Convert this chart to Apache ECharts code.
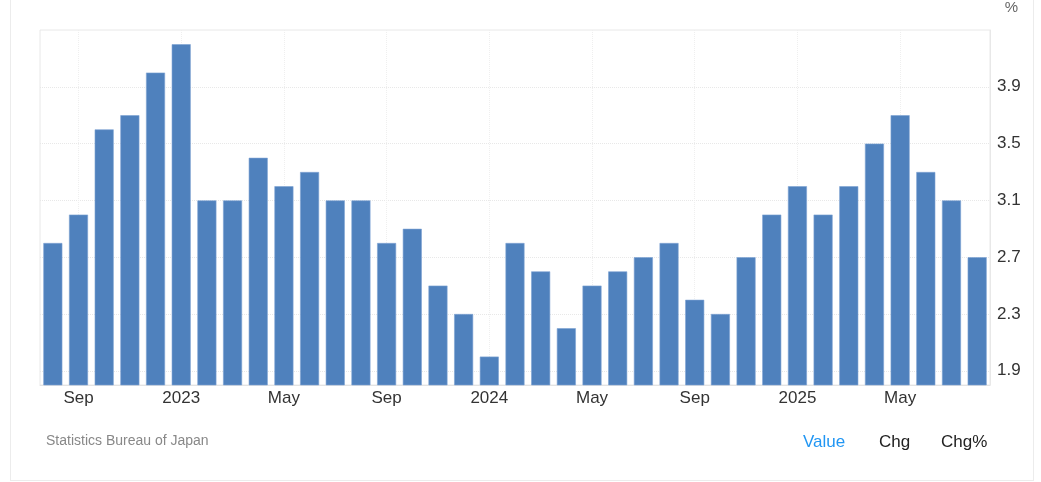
<!DOCTYPE html>
<html>
<head>
<meta charset="utf-8">
<script src="https://cdn.jsdelivr.net/npm/echarts@6/dist/echarts.min.js"></script>
<style>
  html, body { margin: 0; padding: 0; background: #fff; }
  #frame { position: absolute; left: 10px; top: -2px; width: 1024px; height: 483px; border: 1px solid #ececec; box-sizing: border-box; }
  #main { position: absolute; left: 0; top: 0; width: 1041px; height: 482px; }
</style>
</head>
<body>
<div id="frame"></div>
<div id="main"></div>
<script>
// months shown on the x axis (Aug 2022 .. Aug 2025)
const categories = [
  '2022-08', '2022-09', '2022-10', '2022-11', '2022-12',
  '2023-01', '2023-02', '2023-03', '2023-04', '2023-05', '2023-06',
  '2023-07', '2023-08', '2023-09', '2023-10', '2023-11', '2023-12',
  '2024-01', '2024-02', '2024-03', '2024-04', '2024-05', '2024-06',
  '2024-07', '2024-08', '2024-09', '2024-10', '2024-11', '2024-12',
  '2025-01', '2025-02', '2025-03', '2025-04', '2025-05', '2025-06',
  '2025-07', '2025-08'
];
// inflation rate, %
const values = [
  2.8, 3.0, 3.6, 3.7, 4.0,
  4.2, 3.1, 3.1, 3.4, 3.2, 3.3,
  3.1, 3.1, 2.8, 2.9, 2.5, 2.3,
  2.0, 2.8, 2.6, 2.2, 2.5, 2.6,
  2.7, 2.8, 2.4, 2.3, 2.7, 3.0,
  3.2, 3.0, 3.2, 3.5, 3.7, 3.3,
  3.1, 2.7
];
const monthNames = ['Jan', 'Feb', 'Mar', 'Apr', 'May', 'Jun', 'Jul', 'Aug', 'Sep', 'Oct', 'Nov', 'Dec'];
const yTicks = [1.9, 2.3, 2.7, 3.1, 3.5, 3.9];
const sourceText = 'Statistics Bureau of Japan';
const buttons = ['Value', 'Chg', 'Chg%'];

const font = "'Liberation Sans', Arial, sans-serif";
const showLabel = (i) => i % 4 === 1;

const myChart = echarts.init(document.getElementById('main'));
const option = {
  animation: false,
  textStyle: { fontFamily: font },
  grid: {
    left: 40,
    right: 51,
    top: 30,
    bottom: 97,
    show: true,
    borderColor: '#e8e8e8',
    borderWidth: 1
  },
  xAxis: {
    type: 'category',
    data: categories,
    axisLine: { show: true, lineStyle: { color: '#e3e3e3' } },
    axisTick: { show: false },
    axisLabel: {
      interval: (i) => showLabel(i),
      margin: 5,
      color: '#333',
      fontSize: 17,
      fontFamily: font,
      formatter: (v) => {
        const [y, m] = v.split('-');
        return m === '01' ? y : monthNames[parseInt(m, 10) - 1];
      }
    },
    splitLine: {
      show: true,
      interval: (i) => showLabel(i),
      alignWithLabel: true,
      lineStyle: { color: '#efefef', type: 'dotted' }
    }
  },
  yAxis: {
    type: 'value',
    position: 'right',
    min: 1.8,
    max: 4.3,
    axisLine: { show: true, lineStyle: { color: '#e8e8e8' } },
    axisTick: { show: false, customValues: yTicks },
    axisLabel: {
      customValues: yTicks,
      margin: 7,
      color: '#333',
      fontSize: 17,
      fontFamily: font,
      formatter: (v) => v.toFixed(1)
    },
    splitLine: {
      show: true,
      lineStyle: { color: '#e8e8e8', type: 'dotted' }
    }
  },
  series: [
    {
      name: 'Value',
      type: 'bar',
      data: values,
      barCategoryGap: '26%',
      itemStyle: { color: '#4f81bd', borderColor: '#7ea3d3', borderWidth: 0.6 }
    }
  ],
  graphic: [
    { type: 'text', right: 23, top: 0, style: { text: '%', fill: '#666', font: '15px ' + font } },
    { type: 'text', left: 46, top: 434, style: { text: sourceText, fill: '#888', font: '14px ' + font } },
    { type: 'text', left: 803, top: 434, style: { text: buttons[0], fill: '#2196f3', font: '17px ' + font } },
    { type: 'text', left: 879, top: 434, style: { text: buttons[1], fill: '#222', font: '17px ' + font } },
    { type: 'text', left: 941, top: 434, style: { text: buttons[2], fill: '#222', font: '17px ' + font } }
  ]
};
myChart.setOption(option);
window.addEventListener('resize', function () {
  myChart.resize();
});
</script>
</body>
</html>
